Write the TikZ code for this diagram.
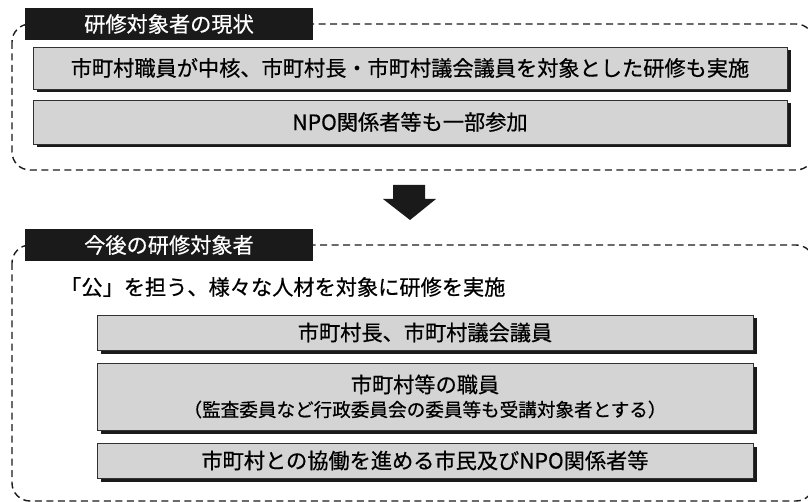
\documentclass[tikz,border=0pt]{standalone}
\usepackage{fontspec}
\setmainfont{Noto Sans CJK JP}[FakeBold=0.6]
\usetikzlibrary{shadows}
\definecolor{boxgray}{HTML}{D4D4D4}
\definecolor{ink}{HTML}{1A1A1A}
\begin{document}
\begin{tikzpicture}[x=1pt,y=-1pt,
  frame/.style={draw=ink,line width=1.4pt,dash pattern=on 7pt off 4.5pt,rounded corners=18pt},
  lbl/.style={fill=ink,text=white,minimum width=288pt,minimum height=32pt,inner sep=0pt,font=\fontsize{21.2}{24}\selectfont},
  gbox/.style={draw=ink!90,line width=0.9pt,fill=boxgray,inner sep=0pt,align=center,
    drop shadow={shadow xshift=3.5pt,shadow yshift=-3.5pt,fill=ink,opacity=1},
    font=\fontsize{21.2}{25}\selectfont},
  plain/.style={inner sep=0pt,font=\fontsize{21.2}{24}\selectfont}
]
\useasboundingbox (0,0) rectangle (808,502);
% top section
\draw[frame] (12,24) rectangle (814,170);
\node[lbl] (l1) at (169,24) {研修対象者の現状};
\node[gbox,minimum width=754pt,minimum height=42pt] (b1) at (410,68) {市町村職員が中核、市町村長・市町村議会議員を対象とした研修も実施};
\node[gbox,minimum width=754pt,minimum height=44pt] (b2) at (410,122) {NPO関係者等も一部参加};
% arrow
\fill[ink] (393,185) -- (425,185) -- (425,199) -- (436,199) -- (410,220) -- (383,199) -- (393,199) -- cycle;
% bottom section
\draw[frame] (12,245) rectangle (814,501);
\node[lbl] (l2) at (169,245) {今後の研修対象者};
\node[plain,anchor=west] (t1) at (60,287) {「公」を担う、様々な人材を対象に研修を実施};
\node[gbox,minimum width=656pt,minimum height=35pt] (b3) at (425,332.5) {市町村長、市町村議会議員};
\node[gbox,minimum width=656pt,minimum height=67pt] (b4) at (425,396.5) {市町村等の職員\\[-1pt]{\fontsize{18.6}{21}\selectfont（監査委員など行政委員会の委員等も受講対象者とする）}};
\node[gbox,minimum width=656pt,minimum height=35pt] (b5) at (425,460.5) {市町村との協働を進める市民及びNPO関係者等};
\end{tikzpicture}
\end{document}
